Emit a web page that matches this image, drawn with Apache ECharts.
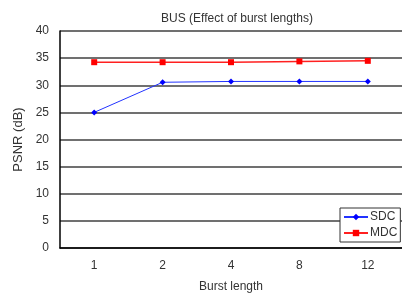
<!DOCTYPE html>
<html>
<head>
<meta charset="utf-8">
<script src="https://cdn.jsdelivr.net/npm/echarts@6/dist/echarts.min.js"></script>
<style>
  html, body { margin: 0; padding: 0; background: #fff; }
  #chart { width: 402px; height: 298px; }
</style>
</head>
<body>
<div id="chart"></div>
<script>
let burstLengths = ["1", "2", "4", "8", "12"]
let sdc = [25.0, 30.55, 30.7, 30.7, 30.7]
let mdc = [34.25, 34.25, 34.25, 34.4, 34.5]
let yTicks = [0, 5, 10, 15, 20, 25, 30, 35, 40]

let font = "Liberation Sans, Arial, sans-serif"

var myChart = echarts.init(document.getElementById("chart"))
var option = {
    animation: false,
    title: {
        text: "BUS (Effect of burst lengths)",
        left: 232,
        top: 8,
        textAlign: "center",
        textStyle: { fontFamily: font, fontSize: 12, fontWeight: "normal", color: "#333" }
    },
    grid: { left: 60, right: -8, top: 31, bottom: 47 },
    legend: {
        orient: "vertical",
        left: 340,
        top: 208,
        padding: [3, 3, 3, 3],
        itemGap: 4,
        itemWidth: 24,
        itemHeight: 8,
        backgroundColor: "#fff",
        borderColor: "#333",
        borderWidth: 1,
        textStyle: { fontFamily: font, fontSize: 12, color: "#333", padding: [0, 0, 0, -3] },
        data: ["SDC", "MDC"]
    },
    xAxis: {
        type: "category",
        data: burstLengths,
        boundaryGap: true,
        name: "Burst length",
        nameLocation: "middle",
        nameGap: 33,
        nameTextStyle: { fontFamily: font, fontSize: 12, color: "#333" },
        axisLine: { lineStyle: { color: "#000", width: 1.5 } },
        axisTick: { inside: true, length: 4, lineStyle: { color: "#333" } },
        axisLabel: { fontFamily: font, fontSize: 12, color: "#333", margin: 12 }
    },
    yAxis: {
        type: "value",
        min: yTicks[0],
        max: yTicks[yTicks.length - 1],
        interval: 5,
        name: "PSNR (dB)",
        nameLocation: "middle",
        nameGap: 35,
        nameTextStyle: { fontFamily: font, fontSize: 13, color: "#333" },
        axisLine: { show: true, lineStyle: { color: "#000", width: 1.5 } },
        axisTick: { show: false },
        axisLabel: { fontFamily: font, fontSize: 12, color: "#333", margin: 11 },
        splitLine: { lineStyle: { color: "#404040", width: 1.5 } }
    },
    series: [
        {
            name: "SDC",
            type: "line",
            data: sdc,
            symbol: "diamond",
            symbolSize: 6,
            itemStyle: { color: "#0000ff" },
            lineStyle: { color: "#2233ff", width: 1 }
        },
        {
            name: "MDC",
            type: "line",
            data: mdc,
            symbol: "rect",
            symbolSize: 6,
            itemStyle: { color: "#ff0000" },
            lineStyle: { color: "#ff2020", width: 1.5 }
        }
    ]
}
myChart.setOption(option)
</script>
</body>
</html>
